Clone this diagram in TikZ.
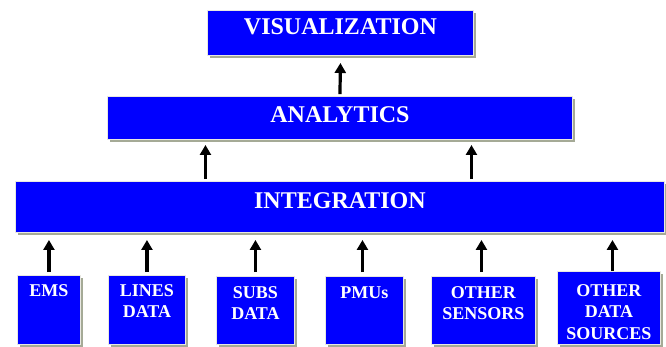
\documentclass[tikz,border=0pt]{standalone}
\usepackage{fontspec}
\setmainfont{Liberation Serif}
\usetikzlibrary{arrows.meta,shadows}
\definecolor{boxblue}{RGB}{0,0,255}
\definecolor{shadowc}{RGB}{165,170,150}
\definecolor{edgec}{RGB}{232,232,226}
\begin{document}
\begin{tikzpicture}[x=1pt,y=1pt,
  box/.style={fill=boxblue, draw=edgec, line width=0.9pt, inner sep=0pt, anchor=south west,
    drop shadow={shadow xshift=2.5pt, shadow yshift=-2.5pt, fill=shadowc, opacity=1}},
  bigtxt/.style={text=white, inner sep=0pt, font=\fontsize{24}{28}\selectfont\bfseries},
  smalltxt/.style={text=white, inner sep=0pt, anchor=north, align=center,
    font=\fontsize{18}{21.5}\selectfont\bfseries},
  arr/.style={line width=3.2pt, -{Triangle[width=11pt,length=10pt]}}]
\useasboundingbox (0,0) rectangle (666,347);
% top layers
\node[box, minimum width=266, minimum height=45] (vis) at (207,291) {};
\node[box, minimum width=465, minimum height=43] (anal) at (107,207) {};
\node[box, minimum width=649, minimum height=51] (integ) at (15,114) {};
\node[bigtxt] (visT) at ([yshift=6pt]vis.center) {VISUALIZATION};
\node[bigtxt] (analT) at ([yshift=3.5pt]anal.center) {ANALYTICS};
\node[bigtxt] (integT) at ([yshift=6.5pt]integ.center) {INTEGRATION};
% sources
\node[box, minimum width=63, minimum height=69] (ems) at (17,2) {};
\node[box, minimum width=77, minimum height=69] (lines) at (108,2) {};
\node[box, minimum width=78, minimum height=68] (subs) at (216,2) {};
\node[box, minimum width=78, minimum height=68] (pmus) at (325,2) {};
\node[box, minimum width=104, minimum height=68] (osens) at (431,2) {};
\node[box, minimum width=103, minimum height=73] (ods) at (557,2) {};
\node[smalltxt] (emsT) at ([yshift=-9pt]ems.north) {EMS};
\node[smalltxt] (linesT) at ([yshift=-9pt]lines.north) {LINES\\DATA};
\node[smalltxt] (subsT) at ([yshift=-10pt]subs.north) {SUBS\\DATA};
\node[smalltxt] (pmusT) at ([yshift=-10pt]pmus.north) {PMUs};
\node[smalltxt] (osensT) at ([yshift=-10pt]osens.north) {OTHER\\SENSORS};
\node[smalltxt] (odsT) at ([yshift=-13pt]ods.north) {OTHER\\DATA\\SOURCES};
% arrows
\draw[arr] ([yshift=2pt]anal.north) -- ([yshift=-7pt]vis.south);
\draw[arr] ([xshift=-134.5pt,yshift=2pt]integ.north) -- ([xshift=-134.5pt,yshift=-5pt]anal.south);
\draw[arr] ([xshift=131.5pt,yshift=2pt]integ.north) -- ([xshift=131.5pt,yshift=-5pt]anal.south);
\foreach \n/\dx/\dy in {ems/0/3, lines/0/3, subs/0/4, pmus/-2/4, osens/-2/4, ods/3.5/0} {
  \coordinate (\n-top) at ([xshift=\dx pt]\n.north |- integ.south);
  \draw[arr] ([xshift=\dx pt,yshift=\dy pt]\n.north) -- ([yshift=-7pt]\n-top);
}
\end{tikzpicture}
\end{document}
